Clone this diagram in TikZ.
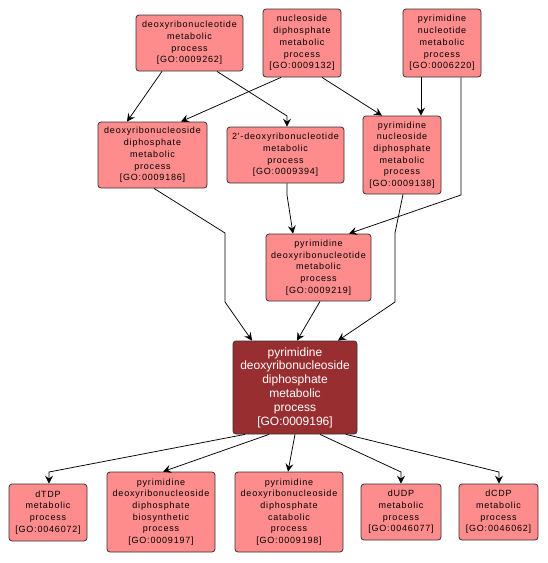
\documentclass[tikz,border=0pt]{standalone}
\usepackage{fontspec}
\setmainfont{Liberation Sans}
\newfontfamily\boxfont[LetterSpace=9]{Liberation Sans}
\usetikzlibrary{arrows.meta}
\definecolor{lightbox}{RGB}{255,140,140}
\definecolor{darkbox}{RGB}{153,46,48}
\tikzset{
 gobox/.style={draw=black!80, line width=0.8pt, rounded corners=3pt, fill=lightbox, align=center, inner sep=0pt, font=\boxfont\fontsize{9}{11.7}\selectfont},
 focus/.style={gobox, fill=darkbox, text=white, font=\fontsize{12}{13.8}\selectfont},
 link/.style={line width=0.75pt, -{Stealth[length=8pt,width=8pt,inset=3pt]}},
}
\begin{document}
\begin{tikzpicture}[x=1pt,y=-1pt]
\useasboundingbox (0,0) rectangle (548,563);
\node[gobox, minimum width=107pt, minimum height=56pt] (A) at (189.5,43) {deoxyribonucleotide\\metabolic\\process\\{[GO:0009262]}};
\node[gobox, minimum width=78pt, minimum height=68pt] (B) at (302,43) {nucleoside\\diphosphate\\metabolic\\process\\{[GO:0009132]}};
\node[gobox, minimum width=78pt, minimum height=68pt] (C) at (442,43) {pyrimidine\\nucleotide\\metabolic\\process\\{[GO:0006220]}};
\node[gobox, minimum width=109pt, minimum height=66pt] (D) at (152.5,155) {deoxyribonucleoside\\diphosphate\\metabolic\\process\\{[GO:0009186]}};
\node[gobox, minimum width=117pt, minimum height=56pt] (E) at (285.5,155) {2'-deoxyribonucleotide\\metabolic\\process\\{[GO:0009394]}};
\node[gobox, minimum width=78pt, minimum height=78pt] (F) at (402,155) {pyrimidine\\nucleoside\\diphosphate\\metabolic\\process\\{[GO:0009138]}};
\node[gobox, minimum width=105pt, minimum height=67pt] (G) at (318.5,267.5) {pyrimidine\\deoxyribonucleotide\\metabolic\\process\\{[GO:0009219]}};
\node[focus, minimum width=124pt, minimum height=93pt] (H) at (295,387.5) {pyrimidine\\deoxyribonucleoside\\diphosphate\\metabolic\\process\\{[GO:0009196]}};
\node[gobox, minimum width=78pt, minimum height=57pt] (T) at (48,512.5) {dTDP\\metabolic\\process\\{[GO:0046072]}};
\node[gobox, minimum width=108pt, minimum height=80pt] (I) at (161,512) {pyrimidine\\deoxyribonucleoside\\diphosphate\\biosynthetic\\process\\{[GO:0009197]}};
\node[gobox, minimum width=108pt, minimum height=80pt] (J) at (289,512) {pyrimidine\\deoxyribonucleoside\\diphosphate\\catabolic\\process\\{[GO:0009198]}};
\node[gobox, minimum width=80pt, minimum height=56pt] (U) at (401,512) {dUDP\\metabolic\\process\\{[GO:0046077]}};
\node[gobox, minimum width=79pt, minimum height=56pt] (K) at (498.5,512) {dCDP\\metabolic\\process\\{[GO:0046062]}};
\draw[link] (162,0 |- A.south) -- (127,0 |- D.north);
\draw[link] (217,0 |- A.south) -- (287,116) -- (287,0 |- E.north);
\draw[link] (281,0 |- B.south) -- (181,0 |- D.north);
\draw[link] (322,0 |- B.south) -- (382,0 |- F.north);
\draw[link] (421,0 |- C.south) -- (421,0 |- F.north);
\draw[link] (461,0 |- C.south) -- (461,195) -- (349,0 |- G.north);
\draw[link] (154,0 |- D.south) -- (225,233) -- (225,302) -- (252,0 |- H.north);
\draw[link] (287,0 |- E.south) -- (287,195) -- (293,0 |- G.north);
\draw[link] (403,0 |- F.south) -- (395,233) -- (395,302) -- (338,0 |- H.north);
\draw[link] (320,0 |- G.south) -- (297,0 |- H.north);
\draw[link] (245,0 |- H.south) -- (49,472) -- (49,0 |- T.north);
\draw[link] (269,0 |- H.south) -- (163,0 |- I.north);
\draw[link] (295,0 |- H.south) -- (288,0 |- J.north);
\draw[link] (320,0 |- H.south) -- (401,472) -- (401,0 |- U.north);
\draw[link] (346,0 |- H.south) -- (499,472) -- (499,0 |- K.north);
\end{tikzpicture}
\end{document}
